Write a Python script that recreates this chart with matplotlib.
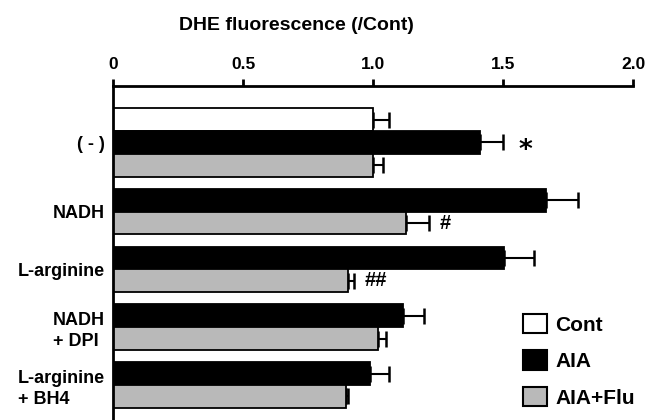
import numpy as np
import matplotlib
matplotlib.use('Agg')
import matplotlib.pyplot as plt
from matplotlib.patches import Patch

plt.rcParams['font.family'] = ['Liberation Sans', 'DejaVu Sans']
plt.rcParams['font.weight'] = 'bold'

# data
groups = ['( - )', 'NADH', 'L-arginine', 'NADH\n+ DPI', 'L-arginine\n+ BH4']
cont = [1.00, None, None, None, None]
cont_err = [0.06, None, None, None, None]
aia = [1.41, 1.665, 1.505, 1.115, 0.99]
aia_err = [0.09, 0.125, 0.115, 0.08, 0.07]
flu = [1.00, 1.125, 0.905, 1.02, 0.895]
flu_err = [0.04, 0.09, 0.02, 0.03, 0.01]
aia_mark = ['*', '', '', '', '']
flu_mark = ['', '#', '##', '', '']

series = [
    ('Cont', cont, cont_err, 'white', [''] * 5),
    ('AIA', aia, aia_err, 'black', aia_mark),
    ('AIA+Flu', flu, flu_err, '#b9b9b9', flu_mark),
]

fig = plt.figure(figsize=(6.68, 4.2), dpi=100)
ax = fig.add_axes([113 / 668, 0, 520 / 668, 334 / 420])

gap = 0.53
pos = 0.0
group_centers = []
for gi in range(len(groups)):
    ys = []
    for name, vals, errs, color, marks in series:
        if vals[gi] is None:
            continue
        ax.barh(pos, vals[gi], height=1.0, color=color, edgecolor='black', linewidth=1.3, zorder=2)
        ax.errorbar(vals[gi], pos, xerr=[[0], [errs[gi]]], fmt='none', ecolor='black',
                    elinewidth=1.5, capsize=5.5, capthick=1.8, zorder=1)
        m = marks[gi]
        if m == '*':
            ax.annotate(m, (vals[gi] + errs[gi], pos), xytext=(11, -6),
                        textcoords='offset points', va='center', ha='left',
                        fontsize=19, fontweight='bold', family=['DejaVu Sans'])
        elif m:
            ax.annotate(m, (vals[gi] + errs[gi], pos), xytext=(8, 0),
                        textcoords='offset points', va='center', ha='left',
                        fontsize=14.5, fontweight='bold')
        ys.append(pos)
        pos += 1
    group_centers.append(np.mean(ys))
    pos += gap

ax.set_xlim(0, 2.0)
ax.set_ylim(pos - gap - 0.5 + 0.53, -1.47)
ax.set_xticks([0, 0.5, 1.0, 1.5, 2.0])
ax.set_xticklabels(['0', '0.5', '1.0', '1.5', '2.0'])
ax.xaxis.tick_top()
ax.tick_params(axis='x', direction='out', length=5, width=2, labelsize=12.5, pad=5)
ax.set_yticks(group_centers)
ax.set_yticklabels(groups, fontsize=13, multialignment='left', linespacing=1.3)
ax.tick_params(axis='y', length=0, pad=6)

for s in ['right', 'bottom']:
    ax.spines[s].set_visible(False)
ax.spines['top'].set_linewidth(2)
ax.spines['left'].set_linewidth(2)

ax.xaxis.set_label_position('top')
ax.set_xlabel('DHE fluorescence (/Cont)', fontsize=14, fontweight='bold')
ax.xaxis.set_label_coords((296 - 113) / 520, 1 + (86 - 26) / 334)
ax.xaxis.label.set_va('center')

handles = [Patch(facecolor=c, edgecolor='black', linewidth=1.5) for _, _, _, c, _ in series]
labels = [n for n, _, _, _, _ in series]
fig.legend(handles, labels, loc='upper left', bbox_to_anchor=(523 / 668, 1 - 314 / 420),
           frameon=False, borderpad=0, borderaxespad=0, fontsize=15,
           handlelength=1.15, handleheight=1.06, handletextpad=0.4, labelspacing=0.75)

fig.savefig('out.png', dpi=100)
